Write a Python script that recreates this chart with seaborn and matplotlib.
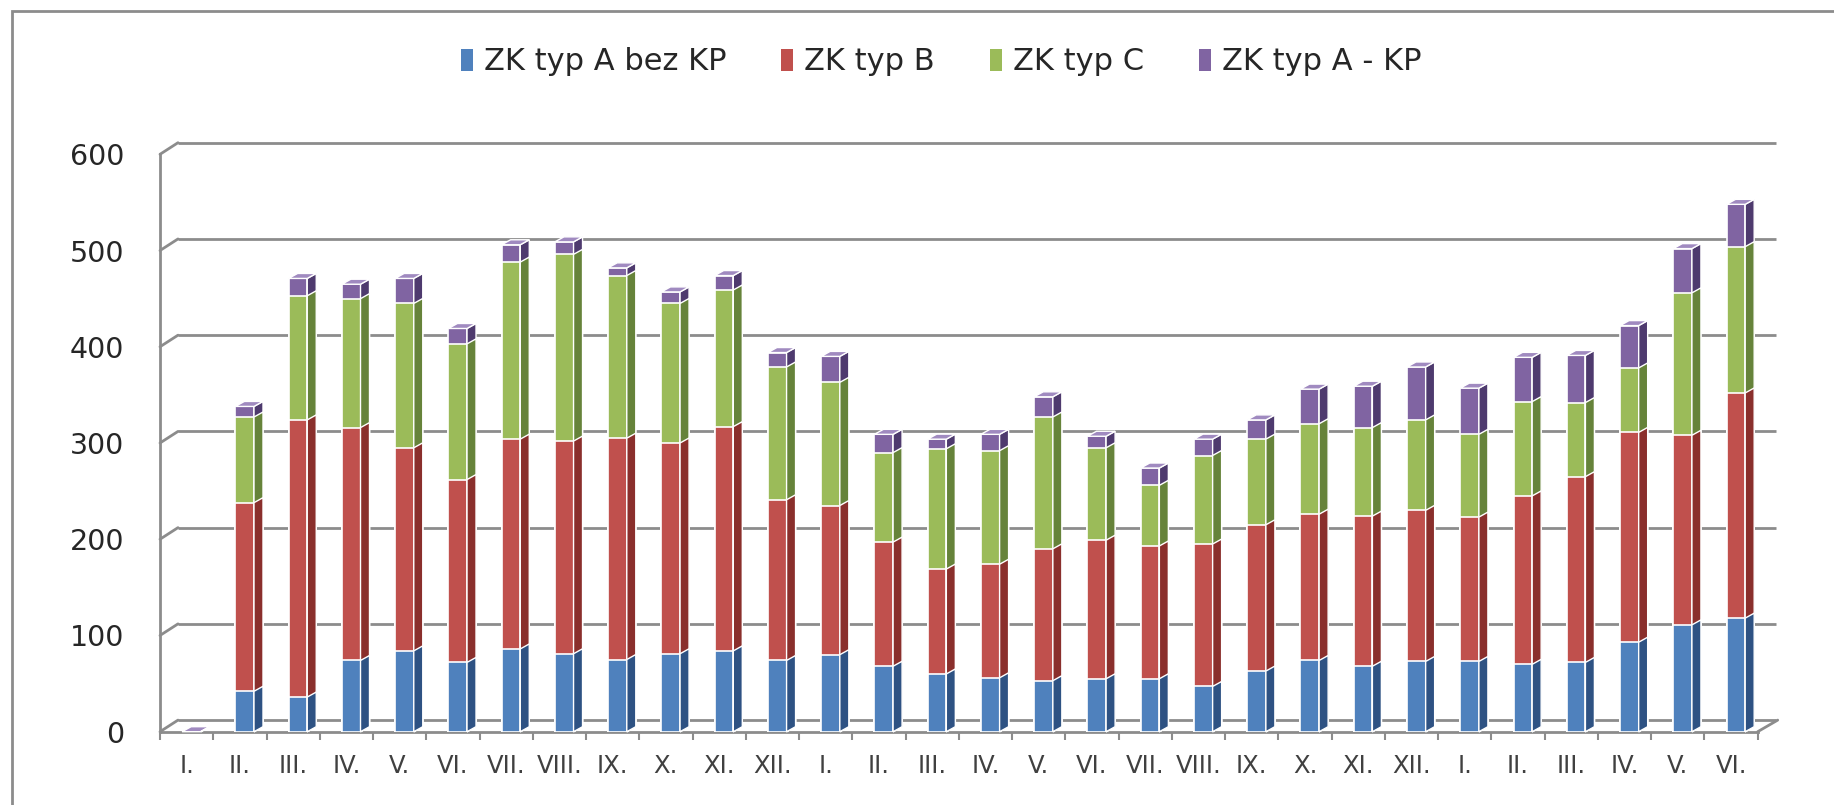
import numpy as np
import pandas as pd
import matplotlib
matplotlib.use('Agg')
import matplotlib.pyplot as plt
import seaborn as sns
from matplotlib.patches import Polygon, Rectangle

sns.set_style('white')
plt.rcParams['font.family'] = ['DejaVu Sans']

# months, 2 full years + half year
months = ['I.', 'II.', 'III.', 'IV.', 'V.', 'VI.', 'VII.', 'VIII.', 'IX.', 'X.', 'XI.', 'XII.',
          'I.', 'II.', 'III.', 'IV.', 'V.', 'VI.', 'VII.', 'VIII.', 'IX.', 'X.', 'XI.', 'XII.',
          'I.', 'II.', 'III.', 'IV.', 'V.', 'VI.']

typ_a_bez_kp = [0, 42, 36, 74, 84, 72, 86, 81, 75, 81, 84, 74,
                80, 68, 60, 56, 53, 55, 55, 47, 63, 74, 68, 73,
                73, 70, 72, 93, 111, 118]
typ_b = [0, 196, 288, 242, 211, 190, 218, 221, 230, 219, 233, 167,
         155, 129, 109, 118, 137, 144, 138, 148, 152, 152, 156, 157,
         150, 175, 193, 218, 197, 234]
typ_c = [0, 89, 129, 134, 150, 141, 184, 194, 169, 145, 142, 138,
         128, 93, 125, 118, 137, 96, 63, 92, 89, 94, 92, 94,
         86, 98, 77, 67, 148, 152]
typ_a_kp = [0, 11, 18, 15, 26, 16, 18, 13, 8, 12, 15, 15,
            27, 19, 10, 17, 21, 12, 18, 17, 20, 36, 43, 55,
            48, 46, 49, 44, 46, 44]

series = ['ZK typ A bez KP', 'ZK typ B', 'ZK typ C', 'ZK typ A - KP']
colors = ['#4F81BD', '#C0504D', '#9BBB59', '#8064A2']
side_colors = ['#2E5283', '#8A2F2C', '#66833A', '#4E3A6E']
cap_color = '#A08AC0'
grid_col = '#8C8C8C'

df = pd.DataFrame({'idx': range(len(months)), 'month': months,
                   series[0]: typ_a_bez_kp, series[1]: typ_b,
                   series[2]: typ_c, series[3]: typ_a_kp})
cum = df[series].cumsum(axis=1)

W, H = 1834, 805
fig = plt.figure(figsize=(W / 100, H / 100), dpi=100)
ax = fig.add_axes([160 / W, 1 - 731.7 / H, 1597.7 / W, 577.4 / H])

# 3d look offsets (pixels -> data units)
px_x = 1597.7 / len(months)
px_y = 577.4 / 600
side_dx = 9 / px_x
side_dy = 5 / px_y
wall_dx = 18
wall_dy = 11.6

# back wall gridlines
for v in range(0, 601, 100):
    ax.plot([18 / 1597.7, 1 + 18 / 1597.7], [v + wall_dy / px_y] * 2, transform=ax.get_yaxis_transform(),
            color=grid_col, lw=2, clip_on=False, zorder=1, solid_capstyle='butt')
    ax.plot([0, wall_dx / 1597.7], [v, v + wall_dy / px_y], transform=ax.get_yaxis_transform(),
            color=grid_col, lw=2, clip_on=False, zorder=1)
ax.plot([1, 1 + 20 / 1597.7], [0, wall_dy / px_y], transform=ax.get_yaxis_transform(),
        color=grid_col, lw=2, clip_on=False, zorder=1)

# stacked bars: draw cumulative totals from the top series down
shift = 0.09
for k in range(3, -1, -1):
    z = 10 - k
    n0 = len(ax.patches)
    sns.barplot(x=df['idx'], y=cum[series[k]], color=colors[k], saturation=1, width=0.35,
                edgecolor='white', linewidth=1.2, errorbar=None, ax=ax)
    for p in ax.patches[n0:]:
        p.set_x(p.get_x() + shift)
        p.set_zorder(z)
        x0, x1 = p.get_x(), p.get_x() + p.get_width()
        top = p.get_height()
        ax.add_patch(Polygon([(x1, 0), (x1 + side_dx, side_dy), (x1 + side_dx, top + side_dy), (x1, top)],
                             closed=True, fc=side_colors[k], ec='white', lw=1.0, zorder=z, clip_on=False))
        if k == 3:
            ax.add_patch(Polygon([(x0, top), (x1, top), (x1 + side_dx, top + side_dy), (x0 + side_dx, top + side_dy)],
                                 closed=True, fc=cap_color, ec='white', lw=1.0, zorder=z, clip_on=False))

ax.set_xlim(-0.5, len(months) - 0.5)
ax.set_ylim(0, 600)
ax.set_xlabel('')
ax.set_ylabel('')

ax.set_yticks(range(0, 601, 100))
ax.set_xticks(range(len(months)))
ax.set_xticklabels(months)
ax.set_xticks(np.arange(-0.5, len(months), 1), minor=True)
ax.tick_params(axis='y', length=8.6, width=1.5, color=grid_col, labelsize=20.5, pad=17, labelcolor='#262626')
ax.tick_params(axis='x', which='major', length=0, labelsize=17.5, pad=16, labelcolor='#404040')
ax.tick_params(axis='x', which='minor', length=5.8, width=1.5, color=grid_col, bottom=True)

for s in ['top', 'right']:
    ax.spines[s].set_visible(False)
for s in ['left', 'bottom']:
    ax.spines[s].set_color(grid_col)
    ax.spines[s].set_linewidth(2)
    ax.spines[s].set_zorder(2)

handles = [Rectangle((0, 0), 1, 1, fc=c, ec='none') for c in colors]
fig.legend(handles, series, loc='center', bbox_to_anchor=(0.513, 1 - 62 / H), ncol=4, frameon=False,
           fontsize=22, handlelength=0.4, handleheight=0.75, handletextpad=0.35, columnspacing=1.8)

# chart area frame
fig.add_artist(Rectangle((12 / W, -0.5), 2, 0.5 + 1 - 11 / H, transform=fig.transFigure,
                         fill=False, ec='#8C8C8C', lw=2))

fig.savefig('out.png', dpi=100)
